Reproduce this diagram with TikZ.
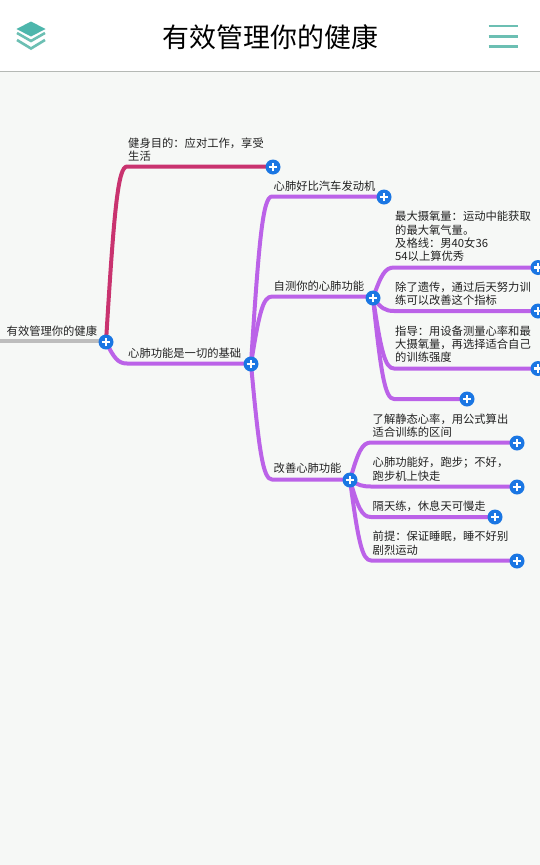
\documentclass[tikz,border=0pt]{standalone}
\usepackage{fontspec}
\setmainfont{Noto Sans CJK SC}
\pgfdeclarelayer{canvas}
\pgfdeclarelayer{links}
\pgfsetlayers{canvas,links,main}
\definecolor{pagebg}{HTML}{F6F8F6}
\definecolor{teal1}{HTML}{4DB6AC}
\definecolor{teal2}{HTML}{6CBFB3}
\definecolor{rule1}{HTML}{B5B9B5}
\definecolor{plusblue}{HTML}{1A76E3}
\definecolor{purple1}{HTML}{BB62E8}
\definecolor{pink1}{HTML}{C9336F}
\definecolor{gray1}{HTML}{BDBDBD}
\definecolor{ink}{HTML}{222222}
\tikzset{
  plusnode/.style={circle,fill=plusblue,minimum size=15pt,inner sep=0pt,
    path picture={\draw[white,line width=2.4pt]
      ([xshift=-4.3pt]path picture bounding box.center) -- ([xshift=4.3pt]path picture bounding box.center)
      ([yshift=-4.3pt]path picture bounding box.center) -- ([yshift=4.3pt]path picture bounding box.center);}},
  label text/.style={anchor=south west,inner sep=0pt,align=left,text=ink,
    font=\fontsize{11.3pt}{13.4pt}\selectfont},
  purple link/.style={draw=purple1,line width=4pt,line join=round},
  pink link/.style={draw=pink1,line width=4pt,line join=round},
  gray link/.style={draw=gray1,line width=4pt},
  tealbar/.style={draw=teal2,line width=2.2pt},
}
\begin{document}
\begin{tikzpicture}[x=1pt,y=-1pt]
\useasboundingbox (0,0) rectangle (540,865);
\begin{pgfonlayer}{canvas}
  \fill[pagebg] (0,0) rectangle (540,865);
  \fill[white] (0,0) rectangle (540,71);
  \draw[rule1,line width=1pt] (0,71.5) -- (540,71.5);
\end{pgfonlayer}

% header
\node[font=\fontsize{26.9pt}{30pt}\selectfont,text=black,inner sep=0pt] (title) at (270.5,37) {有效管理你的健康};
\fill[teal1] (16.5,29) -- (31,21.5) -- (45.5,29) -- (31,36.5) -- cycle;
\draw[teal2,line width=2.6pt] (17,33) -- (31,41) -- (45,33);
\draw[teal2,line width=2.6pt] (17,40) -- (31,48.5) -- (45,40);
\draw[tealbar] (488.5,26) -- (517.5,26);
\draw[tealbar] (488.5,36.5) -- (517.5,36.5);
\draw[tealbar] (488.5,46.5) -- (517.5,46.5);

% expand buttons
\node[plusnode] (root) at (106,342) {};
\node[plusnode] (goal) at (273,167) {};
\node[plusnode] (base) at (251,364) {};
\node[plusnode] (engine) at (384,197) {};
\node[plusnode] (test) at (373,298) {};
\node[plusnode] (vo) at (538,267.5) {};
\node[plusnode] (train) at (538,311) {};
\node[plusnode] (guide) at (538,368.5) {};
\node[plusnode] (blank) at (467,399) {};
\node[plusnode] (improve) at (350,480) {};
\node[plusnode] (rate) at (517,443) {};
\node[plusnode] (run) at (517,487) {};
\node[plusnode] (rest) at (495,517) {};
\node[plusnode] (sleep) at (517,561) {};

% free ends and bends
\coordinate (rootstart) at (0,341);
\coordinate (goalc) at (127,166.5);
\coordinate (basec) at (127,363.5);
\coordinate (enginec) at (272,196.5);
\coordinate (testc) at (272,296.5);
\coordinate (improvec) at (272,479.5);
\coordinate (voc) at (394,267.5);
\coordinate (trainc) at (394,311);
\coordinate (guidec) at (394,368.5);
\coordinate (blankc) at (394,399);
\coordinate (ratec) at (371,442.5);
\coordinate (runc) at (371,486.5);
\coordinate (restc) at (371,517);
\coordinate (sleepc) at (371,560.5);

\begin{pgfonlayer}{links}
  \draw[gray link] (rootstart) -- (rootstart -| root);
  \draw[pink link] (root.center) .. controls +(8,-132) and +(-9,0) .. (goalc) -- (goalc -| goal);
  \draw[purple link] (root.center) .. controls +(8,16) and +(-9,0) .. (basec) -- (basec -| base);
  \draw[purple link] (base.center) .. controls +(8,-126) and +(-9,0) .. (enginec) -- (enginec -| engine);
  \draw[purple link] (base.center) .. controls +(8,-51) and +(-9,0) .. (testc) -- (testc -| test);
  \draw[purple link] (base.center) .. controls +(8,87) and +(-9,0) .. (improvec) -- (improvec -| improve);
  \draw[purple link] (test.center) .. controls +(8,-23) and +(-9,0) .. (voc) -- (voc -| vo);
  \draw[purple link] (test.center) .. controls +(8,10) and +(-9,0) .. (trainc) -- (trainc -| train);
  \draw[purple link] (test.center) .. controls +(8,53) and +(-9,0) .. (guidec) -- (guidec -| guide);
  \draw[purple link] (test.center) .. controls +(8,76) and +(-9,0) .. (blankc) -- (blankc -| blank);
  \draw[purple link] (improve.center) .. controls +(8,-28) and +(-9,0) .. (ratec) -- (ratec -| rate);
  \draw[purple link] (improve.center) .. controls +(8,5) and +(-9,0) .. (runc) -- (runc -| run);
  \draw[purple link] (improve.center) .. controls +(8,28) and +(-9,0) .. (restc) -- (restc -| rest);
  \draw[purple link] (improve.center) .. controls +(8,60) and +(-9,0) .. (sleepc) -- (sleepc -| sleep);
\end{pgfonlayer}

% texts
\node[label text] (trootx) at (6.5,336.5) {有效管理你的健康};
\node[label text] (tgoal) at (128,162) {健身目的：应对工作，享受\\生活};
\node[label text] (tbase) at (128,358.5) {心肺功能是一切的基础};
\node[label text] (tengine) at (273.5,191.5) {心肺好比汽车发动机};
\node[label text] (ttest) at (273.5,292) {自测你的心肺功能};
\node[label text] (tvo) at (395,262) {最大摄氧量：运动中能获取\\的最大氧气量。\\及格线：男40女36\\54以上算优秀};
\node[label text] (ttrain) at (395,306) {除了遗传，通过后天努力训\\练可以改善这个指标};
\node[label text] (tguide) at (395,363) {指导：用设备测量心率和最\\大摄氧量，再选择适合自己\\的训练强度};
\node[label text] (timprove) at (273.5,474) {改善心肺功能};
\node[label text] (trate) at (372.5,437.5) {了解静态心率，用公式算出\\适合训练的区间};
\node[label text] (trun) at (372.5,481.5) {心肺功能好，跑步；不好，\\跑步机上快走};
\node[label text] (trest) at (372.5,512) {隔天练，休息天可慢走};
\node[label text] (tsleep) at (372.5,555.5) {前提：保证睡眠，睡不好别\\剧烈运动};
\end{tikzpicture}
\end{document}
